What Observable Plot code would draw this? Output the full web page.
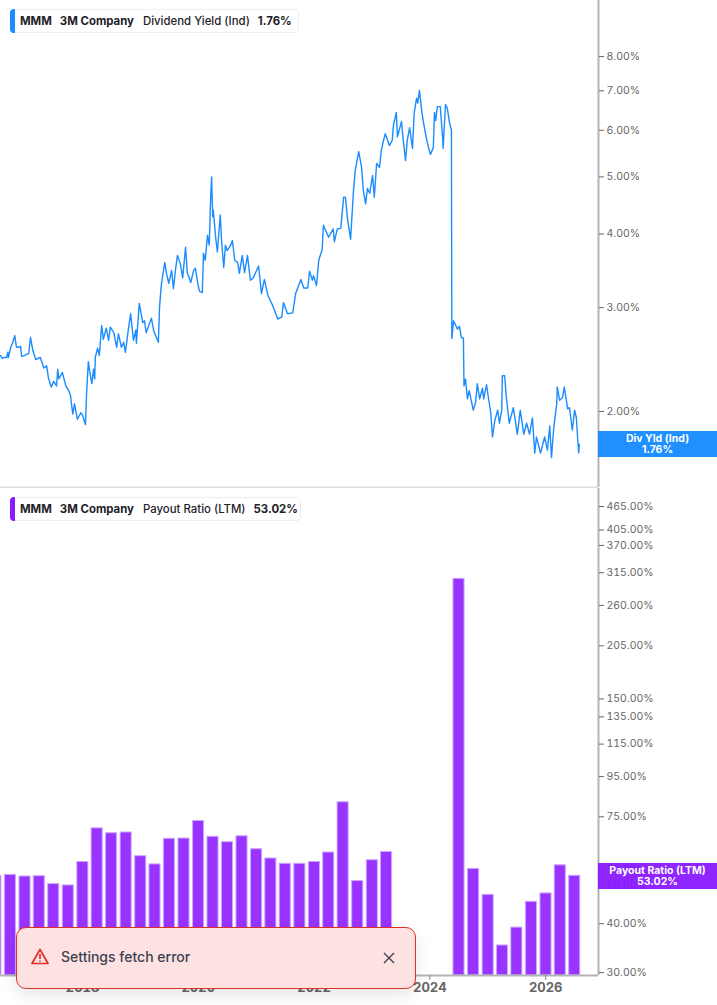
<!DOCTYPE html>
<html><head><meta charset="utf-8">
<script src="https://cdn.jsdelivr.net/npm/d3@7"></script>
<script src="https://cdn.jsdelivr.net/npm/@observablehq/plot@0.6"></script>
<style>
html,body{margin:0;padding:0;background:#fff;font-family:Inter,sans-serif}
#page{position:relative;width:717px;height:1005px;overflow:hidden}
.panel{position:absolute;left:0}
.panel svg{display:block}
.legend{position:absolute;left:10px;height:24px;box-sizing:border-box;background:#fff;border:1px solid #eceef1;border-radius:4px;display:flex;align-items:center;font-size:11.4px;color:#1f2229;white-space:nowrap;padding-left:9px}
.legend::before{content:"";position:absolute;left:-1px;top:-1px;bottom:-1px;width:5px;border-radius:4px 0 0 4px;background:var(--c)}
.legend b{font-weight:700}
.legend span{font-weight:500}
.tag{position:absolute;left:598px;width:119px;height:26px;color:#fff;font-size:10.5px;font-weight:700;line-height:11.5px;text-align:center;padding-top:1.5px;box-sizing:border-box}
.toast{position:absolute;left:16px;top:927px;width:400px;height:62px;box-sizing:border-box;background:#fee2e1;border:1px solid #dc3027;border-radius:10px;box-shadow:0 6px 16px rgba(0,0,0,.10);color:#3b4252;font-size:14px}
.toast div{position:absolute;left:44px;top:20px;font-weight:500}
.toast svg{position:absolute}
</style></head><body>
<div id="page"></div>
<script>
const yieldYears = [2016.58,2016.62,2016.65,2016.69,2016.71,2016.72,2016.76,2016.79,2016.83,2016.86,2016.90,2016.93,2016.95,2017.00,2017.07,2017.10,2017.14,2017.19,2017.27,2017.33,2017.38,2017.41,2017.46,2017.50,2017.55,2017.57,2017.59,2017.65,2017.71,2017.76,2017.79,2017.83,2017.86,2017.91,2017.97,2018.00,2018.05,2018.07,2018.10,2018.12,2018.16,2018.19,2018.21,2018.22,2018.26,2018.29,2018.33,2018.36,2018.41,2018.45,2018.48,2018.54,2018.59,2018.62,2018.67,2018.71,2018.74,2018.79,2018.83,2018.88,2018.92,2018.93,2018.98,2019.04,2019.07,2019.10,2019.19,2019.23,2019.31,2019.33,2019.36,2019.42,2019.45,2019.49,2019.54,2019.57,2019.61,2019.64,2019.69,2019.73,2019.78,2019.81,2019.87,2019.92,2019.95,2019.99,2020.02,2020.07,2020.09,2020.12,2020.16,2020.19,2020.21,2020.23,2020.25,2020.26,2020.30,2020.33,2020.35,2020.38,2020.40,2020.44,2020.47,2020.50,2020.56,2020.59,2020.63,2020.68,2020.71,2020.76,2020.80,2020.85,2020.90,2020.95,2021.04,2021.09,2021.14,2021.20,2021.28,2021.37,2021.44,2021.47,2021.54,2021.63,2021.68,2021.77,2021.82,2021.89,2021.92,2021.97,2021.99,2022.04,2022.08,2022.14,2022.16,2022.25,2022.33,2022.35,2022.40,2022.46,2022.51,2022.54,2022.58,2022.63,2022.68,2022.71,2022.77,2022.82,2022.85,2022.89,2022.92,2022.96,2023.01,2023.04,2023.08,2023.13,2023.16,2023.20,2023.23,2023.30,2023.35,2023.37,2023.42,2023.44,2023.47,2023.51,2023.54,2023.58,2023.61,2023.65,2023.70,2023.73,2023.77,2023.79,2023.82,2023.86,2023.89,2023.94,2023.98,2024.01,2024.06,2024.08,2024.10,2024.13,2024.18,2024.22,2024.23,2024.27,2024.30,2024.34,2024.373,2024.38,2024.41,2024.476,2024.51,2024.545,2024.58,2024.59,2024.615,2024.65,2024.68,2024.75,2024.79,2024.82,2024.86,2024.91,2024.93,2024.98,2025.01,2025.05,2025.08,2025.12,2025.17,2025.20,2025.24,2025.25,2025.29,2025.32,2025.37,2025.44,2025.51,2025.56,2025.62,2025.67,2025.72,2025.77,2025.81,2025.84,2025.91,2025.98,2026.03,2026.07,2026.10,2026.14,2026.19,2026.20,2026.24,2026.29,2026.32,2026.38,2026.41,2026.46,2026.50,2026.53,2026.55,2026.57,2026.58];
const yieldValues = [2.49,2.46,2.47,2.47,2.52,2.47,2.57,2.61,2.69,2.57,2.57,2.58,2.48,2.49,2.51,2.67,2.54,2.45,2.47,2.37,2.39,2.28,2.20,2.25,2.21,2.36,2.27,2.33,2.21,2.17,2.13,1.98,2.06,1.94,1.99,1.97,1.90,2.15,2.43,2.35,2.23,2.36,2.27,2.47,2.56,2.49,2.80,2.65,2.77,2.64,2.78,2.72,2.57,2.71,2.57,2.62,2.52,2.75,2.93,2.64,2.75,2.61,3.05,2.83,2.85,2.72,2.88,2.74,2.62,3.00,3.27,3.58,3.43,3.30,3.47,3.23,3.50,3.68,3.56,3.37,3.80,3.44,3.31,3.47,3.50,3.30,3.20,3.18,3.71,3.61,3.98,3.83,4.49,5.00,4.28,4.39,3.95,3.73,3.95,4.31,3.93,3.51,3.83,3.75,3.83,3.90,3.61,3.58,3.43,3.68,3.44,3.68,3.34,3.37,3.53,3.17,3.35,3.15,3.03,2.87,2.89,3.06,2.93,2.94,3.17,3.35,3.24,3.24,3.46,3.34,3.40,3.27,3.61,3.77,4.14,3.95,4.08,3.88,4.08,4.09,4.62,4.62,4.22,3.92,4.74,5.13,5.52,5.19,4.74,4.50,4.78,4.69,5.03,4.62,5.27,5.19,5.54,5.77,5.92,5.65,5.77,6.11,6.43,5.85,6.00,6.21,5.77,5.33,5.77,6.06,5.59,6.43,6.80,6.67,7.01,6.46,6.18,5.81,5.59,5.46,5.60,6.43,6.23,6.58,6.58,5.85,5.59,6.63,6.55,6.18,6.00,2.66,2.85,2.76,2.79,2.67,2.66,2.21,2.27,2.10,2.17,2.01,2.07,2.23,2.10,2.19,2.10,2.22,2.11,1.99,1.81,1.93,2.01,1.91,2.01,2.30,2.30,2.11,1.91,2.03,1.83,2.01,1.83,1.91,1.83,1.95,1.70,1.81,1.70,1.81,1.72,1.89,1.67,1.88,2.06,2.20,2.09,2.11,2.20,2.02,2.03,1.86,2.01,1.95,1.81,1.70,1.76];

const payoutQuarters = ["2016-06-30","2016-09-30","2016-12-31","2017-03-31","2017-06-30","2017-09-30","2017-12-31","2018-03-31","2018-06-30","2018-09-30","2018-12-31","2019-03-31","2019-06-30","2019-09-30","2019-12-31","2020-03-31","2020-06-30","2020-09-30","2020-12-31","2021-03-31","2021-06-30","2021-09-30","2021-12-31","2022-03-31","2022-06-30","2022-09-30","2022-12-31","2023-03-31","2024-06-30","2024-09-30","2024-12-31","2025-03-31","2025-06-30","2025-09-30","2025-12-31","2026-03-31","2026-06-30"];
const payoutValues = [53,53.3,52.8,52.9,50.5,50.1,57.5,70.1,68.1,68.4,59.5,56.7,65.9,66.0,73.2,66.7,64.6,66.9,62.0,58.7,56.9,56.9,57.5,60.8,81.7,51.4,58.1,61.0,304,55.2,47.4,35.2,39.1,45.5,47.8,56.4,53.02];

const yieldTicks = [2,3,4,5,6,7,8];
const payoutTicks = [30,40,50,55,75,95,115,135,150,205,260,315,370,405,465];
const yearTicks = [2018,2020,2022,2024,2026];
const yieldDomain = [1.486,9.96];
const payoutDomain = [29.5,517];
const xDomainYears = [2016.584,2026.912];

const blue = "#1a8cff", purple = "#9933ff";
const fromYear = y => new Date(Date.UTC(Math.floor(y),0,1) + (y-Math.floor(y))*365.25*864e5);
const xDomain = xDomainYears.map(fromYear);
const pct = d => d.toFixed(2) + "%";
const page = document.getElementById("page");
const axisStyle = {fontFamily:"Inter, sans-serif", fontSize:"10.5px", color:"#666", background:"transparent"};

const yieldRows = yieldYears.map((y,i)=>({date:fromYear(y), value:yieldValues[i]}));
const payoutRows = payoutQuarters.map((q,i)=>{
  const d = new Date(q+"T00:00:00Z");
  return {x1:d3.utcDay.offset(d,-32), x2:d3.utcDay.offset(d,38), value:payoutValues[i]};
});

const top1 = Plot.plot({
  width:717, height:488, marginTop:0, marginBottom:1, marginLeft:0, marginRight:119,
  style:axisStyle,
  x:{type:"utc", domain:xDomain, axis:null},
  y:{type:"log", domain:yieldDomain, axis:null},
  marks:[
    Plot.ruleY([yieldDomain[0]],{stroke:"#dcdcdc",strokeWidth:2}),
    Plot.ruleX([xDomain[1]],{stroke:"#b4b4b4",strokeWidth:2}),
    Plot.axisY({anchor:"right",ticks:yieldTicks,tickFormat:pct,tickSize:5,tickPadding:3,stroke:"#666",fill:"#666",label:null}),
    Plot.line(yieldRows,{x:"date",y:"value",stroke:blue,strokeWidth:1.4,curve:"linear"})
  ]
});
top1.classList.add("panel"); top1.style.top="0px"; page.appendChild(top1);

const bottom = Plot.plot({
  width:717, height:517, marginTop:0, marginBottom:30, marginLeft:0, marginRight:119,
  style:axisStyle,
  x:{type:"utc", domain:xDomain, axis:null},
  y:{type:"log", domain:payoutDomain, axis:null},
  marks:[
    Plot.rect(payoutRows,{x1:"x1",x2:"x2",y1:payoutDomain[0],y2:"value",fill:purple,stroke:"#cfa6ff",strokeWidth:1}),
    Plot.ruleY([payoutDomain[0]],{stroke:"#b4b4b4",strokeWidth:2}),
    Plot.ruleX([xDomain[1]],{stroke:"#b4b4b4",strokeWidth:2}),
    Plot.axisY({anchor:"right",ticks:payoutTicks,tickFormat:pct,tickSize:5,tickPadding:3,stroke:"#666",fill:"#666",label:null}),
    Plot.axisX({anchor:"bottom",ticks:yearTicks.map(y=>new Date(Date.UTC(y,0,1))),tickFormat:d=>String(d.getUTCFullYear()),tickSize:5,tickPadding:2,stroke:"#888",fill:"#666",fontWeight:700,fontSize:13,label:null})
  ]
});
bottom.classList.add("panel"); bottom.style.top="488px"; page.appendChild(bottom);

function legend(top,width,color,metric,value){
  const el=document.createElement("div");
  el.className="legend";
  el.style.top=top+"px"; el.style.width=width+"px"; el.style.setProperty("--c",color);
  el.innerHTML=`<b>MMM</b><b style="margin-left:8px">3M Company</b><span style="margin-left:9px">${metric}</span><b style="margin-left:8px">${value}</b>`;
  page.appendChild(el);
}
legend(8.5,289,blue,"Dividend Yield (Ind)","1.76%");
legend(497,291,"#8b1aff","Payout Ratio (LTM)","53.02%");

function tag(top,color,a,b){
  const el=document.createElement("div");
  el.className="tag"; el.style.top=top+"px"; el.style.background=color;
  el.innerHTML=a+"<br>"+b;
  page.appendChild(el);
}
tag(431,"rgba(26,140,255,.97)","Div Yld (Ind)","1.76%");
tag(863,"rgba(135,20,255,.93)","Payout Ratio (LTM)","53.02%");

const t=document.createElement("div");
t.className="toast";
t.innerHTML=`<svg style="left:14px;top:20px" width="18" height="17" viewBox="0 0 18 17"><path d="M9 1.5 L17 15.5 L1 15.5 Z" fill="none" stroke="#dc3027" stroke-width="1.7" stroke-linejoin="round"/><path d="M9 6v5M9 12.6v1.2" stroke="#dc3027" stroke-width="1.7"/></svg><div>Settings fetch error</div><svg style="left:365px;top:23px" width="14" height="14" viewBox="0 0 14 14"><path d="M2 2L12 12M12 2L2 12" stroke="#3b4252" stroke-width="1.4"/></svg>`;
page.appendChild(t);
</script>
</body></html>
